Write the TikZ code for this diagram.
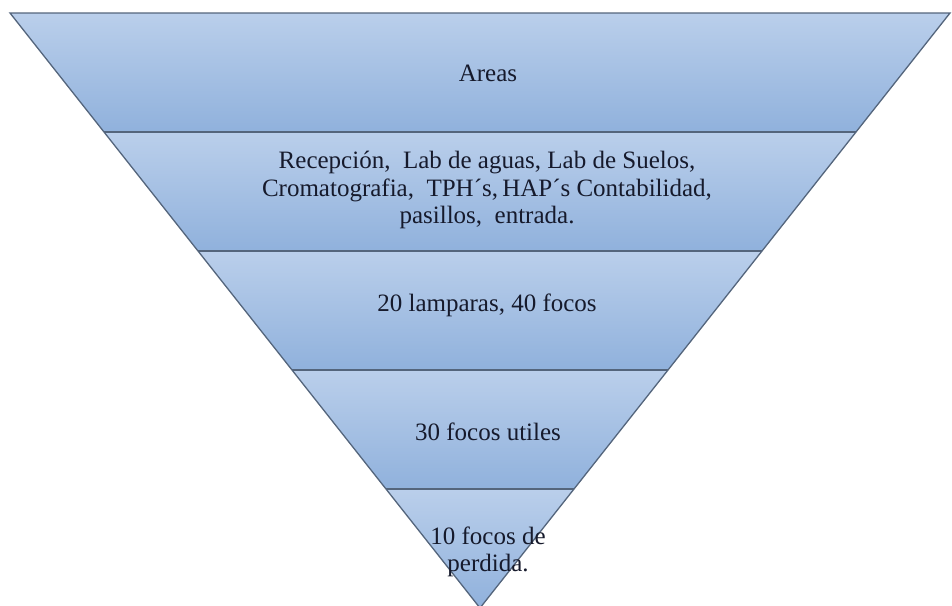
\documentclass[tikz,border=0pt]{standalone}
\usepackage{fontspec}
\setmainfont{Liberation Serif}
\usetikzlibrary{calc}
\definecolor{bandtop}{RGB}{186,207,235}
\definecolor{bandbot}{RGB}{144,177,220}
\definecolor{bandline}{RGB}{84,101,124}
\definecolor{bandink}{RGB}{22,26,44}
\tikzset{
  bandtext/.style={font=\fontsize{25}{27.5}\selectfont, text=bandink, align=center},
  bandedge/.style={draw=bandline, line width=1.3pt},
}
\begin{document}
\begin{tikzpicture}[x=1pt, y=-1pt]
        \useasboundingbox (0,0) rectangle (952,605);
        \coordinate (tl) at (10,13);
        \coordinate (tr) at (950,13);
        \coordinate (apex) at (480,608);
        % Shaded bands
        \foreach \k in {0,1,2,3,4} {
             \pgfmathsetmacro{\ta}{0.2*\k}
             \pgfmathsetmacro{\tb}{0.2*\k+0.2}
             \shade[top color=bandtop, bottom color=bandbot]
                ($(tl)!\ta!(apex)$) -- ($(tr)!\ta!(apex)$) -- ($(tr)!\tb!(apex)$) -- ($(tl)!\tb!(apex)$) -- cycle;
        }
        % Outline and dividers
        \draw[bandedge] (tl) -- (tr) -- (apex) -- cycle;
        \foreach \t in {0.2,0.4,0.6,0.8}
             \draw[bandedge] ($(tl)!\t!(apex)$) -- ($(tr)!\t!(apex)$);

        % Band labels
        \node[bandtext] (areas) at (488,73) {Areas};
        \node[bandtext] (zonas) at (487,190) {Recepción,\ \ Lab de aguas, Lab de Suelos,\\Cromatografia,\ \ TPH´s,\,HAP´s Contabilidad,\\pasillos,\ \ entrada.};
        \node[bandtext] (lamparas) at (487,305) {20 lamparas, 40 focos};
        \node[bandtext] (utiles) at (488,432) {30 focos utiles};
        \node[bandtext] (perdida) at (488,552) {10 focos de\\perdida.};
\end{tikzpicture}
\end{document}
